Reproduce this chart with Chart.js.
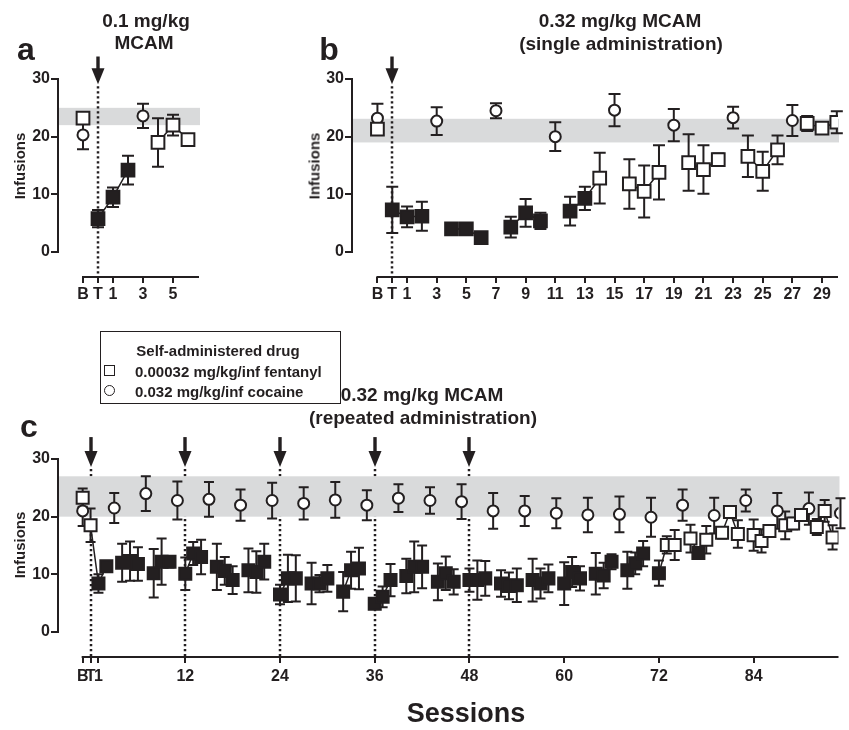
<!DOCTYPE html>
<html><head><meta charset="utf-8">
<script src="https://cdn.jsdelivr.net/npm/chart.js@4.4.1/dist/chart.umd.min.js"></script>
<style>
html,body{margin:0;padding:0;background:#fff;width:849px;height:730px;overflow:hidden;position:relative;}
canvas{position:absolute;left:0;top:0;}
.t{position:absolute;transform:translate(-50%,-50%);font-family:'Liberation Sans',Arial,sans-serif;font-weight:bold;color:#231f20;white-space:nowrap;line-height:1;}
.l{position:absolute;transform:translate(0,-50%);font-family:'Liberation Sans',Arial,sans-serif;font-weight:bold;color:#231f20;white-space:nowrap;line-height:1;}
.rot{transform:translate(-50%,-50%) rotate(-90deg);}
</style></head><body>
<canvas id="ca" width="849" height="730"></canvas>
<canvas id="cb" width="849" height="730"></canvas>
<canvas id="cc" width="849" height="730"></canvas>

<div class="t" style="left:26px;top:49px;font-size:32px;">a</div>
<div class="t" style="left:146px;top:20px;font-size:19px;">0.1 mg/kg</div>
<div class="t" style="left:144px;top:42px;font-size:19px;">MCAM</div>
<div class="t rot" style="left:19px;top:166px;font-size:15px;">Infusions</div>

<div class="t" style="left:329px;top:49px;font-size:32px;">b</div>
<div class="t" style="left:620px;top:20px;font-size:19px;">0.32 mg/kg MCAM</div>
<div class="t" style="left:621px;top:43px;font-size:19px;">(single administration)</div>
<div class="t rot" style="left:314px;top:166px;font-size:15px;">Infusions</div>

<div style="position:absolute;left:100px;top:331px;width:239px;height:71px;border:1.5px solid #231f20;"></div>
<div class="t" style="left:218px;top:350px;font-size:15px;">Self-administered drug</div>
<div style="position:absolute;left:104px;top:365px;width:9px;height:9px;border:1.5px solid #231f20;"></div>
<div class="l" style="left:135px;top:371px;font-size:15px;">0.00032 mg/kg/inf fentanyl</div>
<div style="position:absolute;left:104px;top:385px;width:9px;height:9px;border:1.5px solid #231f20;border-radius:50%;"></div>
<div class="l" style="left:135px;top:391px;font-size:15px;">0.032 mg/kg/inf cocaine</div>

<div class="t" style="left:29px;top:426px;font-size:32px;">c</div>
<div class="t" style="left:422px;top:394px;font-size:19px;">0.32 mg/kg MCAM</div>
<div class="t" style="left:423px;top:417px;font-size:19px;">(repeated administration)</div>
<div class="t rot" style="left:19px;top:545px;font-size:15px;">Infusions</div>
<div class="t" style="left:466px;top:713px;font-size:27px;">Sessions</div>

<script>
// ---------------- DATA ----------------
// Session coding: B (baseline) = -1, T (treatment day) = 0, then sessions 1, 2, ...
// Panel a (0.1 mg/kg MCAM)
const aFent    = [5.8, 9.5, 14.2, null, 19.0, 22.0, 19.5];   // sessions T..6 (null = cocaine day)
const aFentSem = [1.5, 1.7, 2.5, null, 4.2, 1.8, 0.6];
const aFentOpen = [4, 5, 6];                                  // sessions back at baseline (open squares)
const aBaseFent = [23.2], aBaseFentSem = [0.5];
const aCocSessions = [-1, 3];
const aCoc    = [20.3, 23.6];
const aCocSem = [2.5, 2.1];
const aBand = [22, 25];
const aArrows = [0];
const aTicks = [-1, 0, 1, 3, 5];

// Panel b (0.32 mg/kg MCAM, single administration)
const bFent = [7.3, 6.1, 6.2, null, 4.0, 4.0, 2.5, null, 4.3, 6.8, 5.4, null, 7.1, 9.3, 12.8, null,
               11.8, 10.5, 13.8, null, 15.5, 14.3, 16.0, null, 16.6, 14.0, 17.7, null, 22.3, 21.5, 22.5];
const bFentSem = [4.0, 1.8, 2.5, null, 0.4, 0.4, 0.4, null, 1.8, 2.4, 1.4, null, 2.5, 2.0, 4.4, null,
                  4.3, 4.5, 4.7, null, 4.9, 4.2, 1.1, null, 3.6, 3.4, 2.5, null, 1.3, 0.7, 1.9];
const bFentOpen = [14, 16, 17, 18, 20, 21, 22, 24, 25, 26, 28, 29, 30];
const bBaseFent = [21.3], bBaseFentSem = [0.8];
const bCocSessions = [-1, 3, 7, 11, 15, 19, 23, 27];
const bCoc    = [23.2, 22.7, 24.5, 20.0, 24.6, 22.0, 23.3, 22.8];
const bCocSem = [2.5, 2.4, 1.3, 2.5, 2.8, 2.8, 1.9, 2.7];
const bBand = [19, 23.1];
const bArrows = [0];
const bTicks = [-1, 0, 1, 3, 5, 7, 9, 11, 13, 15, 17, 19, 21, 23, 25, 27, 29];

// Panel c (0.32 mg/kg MCAM, repeated administration); index = session number (T = 0)
const cFent = [18.5, 8.4, 11.4, null, 12.0, 12.3, 11.8, null, 10.2, 12.2, 12.2, null,
               10.1, 13.6, 13.0, null, 11.3, 10.6, 9.0, null, 10.7, 10.4, 12.2, null,
               6.5, 9.3, 9.3, null, 8.4, 8.4, 9.3, null, 7.0, 10.7, 11.0, null,
               4.9, 6.1, 9.0, null, 9.7, 11.3, 11.3, null, 8.7, 10.2, 8.7, null,
               9.0, 9.0, 9.3, null, 8.4, 8.0, 8.1, null, 9.0, 8.4, 9.3, null,
               8.4, 10.4, 9.3, null, 10.1, 9.8, 12.2, null, 10.7, 11.9, 13.6, null,
               10.2, 15.1, 15.1, null, 16.2, 13.7, 16.0, null, 17.2, 20.8, 17.0, null,
               16.8, 15.8, 17.5, null, 18.5, 18.8, 20.3, null, 18.2, 21.0, 16.4];
const cFentSem = [2.9, 1.6, 0.8, null, 3.3, 3.4, 2.9, null, 4.2, 4.0, 1.0, null,
                  2.8, 2.0, 3.0, null, 4.0, 2.4, 2.4, null, 3.8, 3.6, 3.1, null,
                  1.7, 4.1, 4.0, null, 3.6, 1.5, 2.3, null, 3.4, 3.2, 3.6, null,
                  0.8, 1.8, 2.8, null, 3.0, 4.4, 3.7, null, 3.2, 2.9, 2.2, null,
                  2.0, 3.4, 3.0, null, 2.3, 2.3, 2.9, null, 3.7, 2.6, 2.4, null,
                  3.7, 2.6, 2.1, null, 3.6, 2.2, 1.3, null, 3.2, 1.9, 2.2, null,
                  2.2, 1.5, 2.6, null, 2.4, 1.0, 2.4, null, 1.0, 1.0, 2.4, null,
                  2.7, 2.0, 1.0, null, 2.4, 1.0, 1.0, null, 1.4, 1.9, 2.1];
const cFentOpen = [0, 73, 74, 76, 78, 80, 81, 82, 84, 85, 86, 88, 89, 90, 92, 93, 94];
const cBaseFent = [23.3], cBaseFentSem = [1.6];
const cCocSessions = [-1, 3, 7, 11, 15, 19, 23, 27, 31, 35, 39, 43, 47, 51, 55, 59, 63, 67, 71, 75, 79, 83, 87, 91, 95];
const cCoc    = [21.0, 21.5, 24.0, 22.8, 23.0, 22.0, 22.8, 22.3, 22.9, 22.0, 23.2, 22.8, 22.6,
                 21.0, 21.0, 20.6, 20.3, 20.4, 19.9, 22.0, 20.2, 22.8, 21.0, 21.4, 20.6];
const cCocSem = [2.6, 2.6, 3.0, 3.3, 3.0, 2.7, 3.1, 2.8, 3.1, 2.6, 2.4, 2.3, 3.0,
                 3.1, 2.6, 2.6, 3.0, 3.1, 3.4, 2.7, 3.1, 1.9, 3.1, 2.8, 2.6];
const cBand = [20, 27];
const cArrows = [0, 12, 24, 36, 48];
const cTicks = [-1, 0, 1, 12, 24, 36, 48, 60, 72, 84];
const yTicks = [0, 10, 20, 30];

// ---------------- DRAWING ----------------
const INK = '#231f20';
const FONT = "'Liberation Sans', Arial, sans-serif";

const decor = {
  id: 'decor',
  beforeDatasetsDraw(chart, args, o) {
    const {ctx, chartArea: ca, scales: {x, y}} = chart;
    ctx.save();
    const band = () => {
      const y1 = y.getPixelForValue(o.band[1]), y0 = y.getPixelForValue(o.band[0]);
      ctx.fillStyle = '#d9dadb';
      ctx.fillRect(ca.left + 1, y1, ca.right - ca.left, y0 - y1);
    };
    const dotted = () => {
      ctx.strokeStyle = INK; ctx.lineWidth = 2.5; ctx.setLineDash([2.2, 2.8]);
      o.arrows.forEach(s => {
        const px = Math.round(x.getPixelForValue(s));
        ctx.beginPath(); ctx.moveTo(px, y.getPixelForValue(o.arrowTip) + 2); ctx.lineTo(px, ca.bottom); ctx.stroke();
      });
      ctx.setLineDash([]);
    };
    if (o.bandOver) { dotted(); band(); } else { band(); dotted(); }
    // axis lines
    ctx.strokeStyle = INK; ctx.lineWidth = 2;
    ctx.beginPath();
    ctx.moveTo(ca.left, y.getPixelForValue(30) - 1); ctx.lineTo(ca.left, y.getPixelForValue(0) + 1);
    ctx.moveTo(x.getPixelForValue(-1) - 1, ca.bottom); ctx.lineTo(ca.right, ca.bottom);
    ctx.stroke();
    // arrows
    ctx.fillStyle = INK;
    o.arrows.forEach(s => {
      const px = Math.round(x.getPixelForValue(s));
      const top = y.getPixelForValue(o.arrowTop), tip = y.getPixelForValue(o.arrowTip);
      ctx.fillRect(px - 1.7, top, 3.4, tip - top - 12);
      ctx.beginPath(); ctx.moveTo(px - 6.5, tip - 16); ctx.lineTo(px + 6.5, tip - 16); ctx.lineTo(px, tip); ctx.closePath(); ctx.fill();
    });
    // error bars
    ctx.lineWidth = 2; ctx.strokeStyle = INK;
    const cw = o.capWidth / 2;
    chart.data.datasets.forEach(ds => {
      if (!ds.errors) return;
      ds.data.forEach((pt, j) => {
        const e = ds.errors[j];
        if (pt.y == null || e == null) return;
        const px = x.getPixelForValue(pt.x);
        const yt = y.getPixelForValue(pt.y + e), yb = y.getPixelForValue(pt.y - e);
        ctx.beginPath();
        ctx.moveTo(px, yt); ctx.lineTo(px, yb);
        ctx.moveTo(px - cw, yt); ctx.lineTo(px + cw, yt);
        ctx.moveTo(px - cw, yb); ctx.lineTo(px + cw, yb);
        ctx.stroke();
      });
    });
    ctx.restore();
  }
};

function tickLabel(v) { return v === -1 ? 'B' : v === 0 ? 'T' : String(v); }

function panel(id, p) {
  const openSet = new Set(p.open);
  const fentPts = p.fent.map((v, i) => ({x: i, y: v}));
  const cocPts = p.cocS.map((s, i) => ({x: s, y: p.coc[i]}));
  const basePts = p.base.map(v => ({x: -1, y: v}));
  return new Chart(document.getElementById(id), {
    type: 'line',
    data: {
      datasets: [
        { label: 'fentanyl', data: fentPts, errors: p.fentSem, showLine: true, spanGaps: false,
          borderColor: INK, borderWidth: 1.5, tension: 0,
          pointStyle: 'rect', pointRadius: p.sqR, pointBorderWidth: 2, pointBorderColor: INK,
          pointBackgroundColor: c => (c.raw && openSet.has(c.raw.x)) ? '#ffffff' : INK },
        { label: 'fentanyl baseline', data: basePts, errors: p.baseSem, showLine: false,
          pointStyle: 'rect', pointRadius: p.sqR, pointBorderWidth: 2, pointBorderColor: INK, pointBackgroundColor: '#ffffff' },
        { label: 'cocaine', data: cocPts, errors: p.cocSem, showLine: false,
          pointStyle: 'circle', pointRadius: p.ciR, pointBorderWidth: 2, pointBorderColor: INK, pointBackgroundColor: '#ffffff' }
      ]
    },
    options: {
      responsive: false, animation: false, events: [],
      layout: { padding: p.pad },
      plugins: { legend: {display: false}, tooltip: {enabled: false},
        decor: { band: p.band, arrows: p.arrows, arrowTop: p.arrowTop, arrowTip: p.arrowTip, capWidth: p.capW, bandOver: p.bandOver } },
      scales: {
        x: { type: 'linear', min: p.xMin, max: p.xMax,
             afterBuildTicks: s => { s.ticks = p.ticks.map(v => ({value: v})); },
             afterFit: s => { s.height = 30; },
             ticks: { autoSkip: false, maxRotation: 0, minRotation: 0, padding: p.xPad, color: INK,
                      font: {family: FONT, weight: 'bold', size: p.tickSize}, callback: v => tickLabel(v) },
             grid: { display: true, drawOnChartArea: false, drawTicks: true, tickLength: 6, lineWidth: 2, color: INK },
             border: { display: false } },
        y: { type: 'linear', min: -4.335, max: 30,
             afterBuildTicks: s => { s.ticks = yTicks.map(v => ({value: v})); },
             afterFit: s => { s.width = p.yW; },
             ticks: { padding: 1, color: INK, font: {family: FONT, weight: 'bold', size: p.tickSize} },
             grid: { display: true, drawOnChartArea: false, drawTicks: true, tickLength: 7, lineWidth: 2, color: INK },
             border: { display: false } }
      }
    },
    plugins: [decor]
  });
}

panel('ca', { fent: aFent, fentSem: aFentSem, open: aFentOpen, base: aBaseFent, baseSem: aBaseFentSem,
  cocS: aCocSessions, coc: aCoc, cocSem: aCocSem, band: aBand, arrows: aArrows, ticks: aTicks,
  xMin: -2.667, xMax: 6.733, pad: {left: 0, top: 79, right: 650, bottom: 423}, yW: 58, xPad: 2,
  arrowTop: 33.9, arrowTip: 29.1, capW: 12, sqR: 9, ciR: 5.5, tickSize: 16, bandOver: false });

panel('cb', { fent: bFent, fentSem: bFentSem, open: bFentOpen, base: bBaseFent, baseSem: bBaseFentSem,
  cocS: bCocSessions, coc: bCoc, cocSem: bCocSem, band: bBand, arrows: bArrows, ticks: bTicks,
  xMin: -2.716, xMax: 30.08, pad: {left: 292, top: 79, right: 0, bottom: 423}, yW: 60, xPad: 2,
  arrowTop: 33.9, arrowTip: 29.1, capW: 12, sqR: 9, ciR: 5.5, tickSize: 16, bandOver: false });

panel('cc', { fent: cFent, fentSem: cFentSem, open: cFentOpen, base: cBaseFent, baseSem: cBaseFentSem,
  cocS: cCocSessions, coc: cCoc, cocSem: cCocSem, band: cBand, arrows: cArrows, ticks: cTicks,
  xMin: -4.125, xMax: 94.75, pad: {left: 0, top: 459, right: 0, bottom: 43}, yW: 58, xPad: 4,
  arrowTop: 33.8, arrowTip: 28.6, capW: 10, sqR: 8.5, ciR: 5.5, tickSize: 16, bandOver: true });
</script>
</body></html>
